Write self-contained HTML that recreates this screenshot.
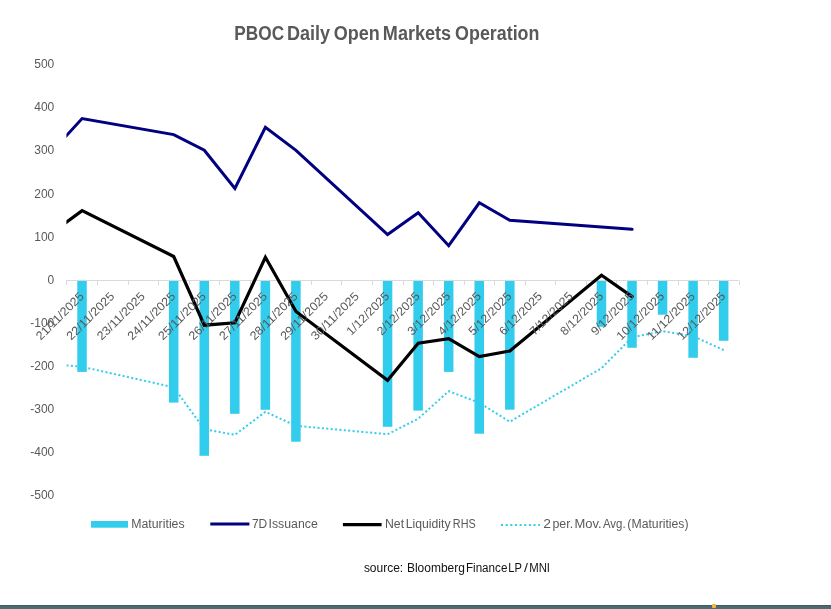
<!DOCTYPE html>
<html><head><meta charset="utf-8"><title>PBOC Daily Open Markets Operation</title>
<style>html,body{margin:0;padding:0;background:#fff;width:831px;height:609px;overflow:hidden}svg{display:block;will-change:transform}text{font-family:"Liberation Sans",sans-serif}</style>
</head><body>
<svg width="831" height="609" viewBox="0 0 831 609">
<rect width="831" height="609" fill="#fff"/>
<defs><clipPath id="pa"><rect x="66.4" y="40" width="700" height="480"/></clipPath></defs>
<text x="234.26" y="39.5" font-family="Liberation Sans" font-weight="bold" font-size="19.6" fill="#595959" textLength="49.85" lengthAdjust="spacingAndGlyphs">PBOC</text>
<text x="286.97" y="39.5" font-family="Liberation Sans" font-weight="bold" font-size="19.6" fill="#595959" textLength="43.07" lengthAdjust="spacingAndGlyphs">Daily</text>
<text x="333.72" y="39.5" font-family="Liberation Sans" font-weight="bold" font-size="19.6" fill="#595959" textLength="46.00" lengthAdjust="spacingAndGlyphs">Open</text>
<text x="382.87" y="39.5" font-family="Liberation Sans" font-weight="bold" font-size="19.6" fill="#595959" textLength="68.28" lengthAdjust="spacingAndGlyphs">Markets</text>
<text x="455.12" y="39.5" font-family="Liberation Sans" font-weight="bold" font-size="19.6" fill="#595959" textLength="84.34" lengthAdjust="spacingAndGlyphs">Operation</text>
<text x="54.3" y="68.2" text-anchor="end" font-family="Liberation Sans" font-size="12" fill="#595959">500</text>
<text x="54.3" y="111.3" text-anchor="end" font-family="Liberation Sans" font-size="12" fill="#595959">400</text>
<text x="54.3" y="154.4" text-anchor="end" font-family="Liberation Sans" font-size="12" fill="#595959">300</text>
<text x="54.3" y="197.5" text-anchor="end" font-family="Liberation Sans" font-size="12" fill="#595959">200</text>
<text x="54.3" y="240.6" text-anchor="end" font-family="Liberation Sans" font-size="12" fill="#595959">100</text>
<text x="54.3" y="283.7" text-anchor="end" font-family="Liberation Sans" font-size="12" fill="#595959">0</text>
<text x="54.3" y="326.8" text-anchor="end" font-family="Liberation Sans" font-size="12" fill="#595959">-100</text>
<text x="54.3" y="369.9" text-anchor="end" font-family="Liberation Sans" font-size="12" fill="#595959">-200</text>
<text x="54.3" y="413.0" text-anchor="end" font-family="Liberation Sans" font-size="12" fill="#595959">-300</text>
<text x="54.3" y="456.1" text-anchor="end" font-family="Liberation Sans" font-size="12" fill="#595959">-400</text>
<text x="54.3" y="499.2" text-anchor="end" font-family="Liberation Sans" font-size="12" fill="#595959">-500</text>
<rect x="77.28" y="280.5" width="9.5" height="91.4" fill="#32cdec"/>
<rect x="168.94" y="280.5" width="9.5" height="122.1" fill="#32cdec"/>
<rect x="199.50" y="280.5" width="9.5" height="175.3" fill="#32cdec"/>
<rect x="230.05" y="280.5" width="9.5" height="133.3" fill="#32cdec"/>
<rect x="260.61" y="280.5" width="9.5" height="129.3" fill="#32cdec"/>
<rect x="291.16" y="280.5" width="9.5" height="161.2" fill="#32cdec"/>
<rect x="382.83" y="280.5" width="9.5" height="146.3" fill="#32cdec"/>
<rect x="413.38" y="280.5" width="9.5" height="130.1" fill="#32cdec"/>
<rect x="443.94" y="280.5" width="9.5" height="91.4" fill="#32cdec"/>
<rect x="474.49" y="280.5" width="9.5" height="153.2" fill="#32cdec"/>
<rect x="505.05" y="280.5" width="9.5" height="129.2" fill="#32cdec"/>
<rect x="596.71" y="280.5" width="9.5" height="46.3" fill="#32cdec"/>
<rect x="627.27" y="280.5" width="9.5" height="67.3" fill="#32cdec"/>
<rect x="657.82" y="280.5" width="9.5" height="34.2" fill="#32cdec"/>
<rect x="688.38" y="280.5" width="9.5" height="77.3" fill="#32cdec"/>
<rect x="718.93" y="280.5" width="9.5" height="60.3" fill="#32cdec"/>
<line x1="66.4" y1="280.5" x2="738.6" y2="280.5" stroke="#d9d9d9" stroke-width="1"/>
<line x1="66.5" y1="280.5" x2="66.5" y2="285.0" stroke="#d9d9d9" stroke-width="1"/>
<line x1="97.5" y1="280.5" x2="97.5" y2="285.0" stroke="#d9d9d9" stroke-width="1"/>
<line x1="128.5" y1="280.5" x2="128.5" y2="285.0" stroke="#d9d9d9" stroke-width="1"/>
<line x1="158.5" y1="280.5" x2="158.5" y2="285.0" stroke="#d9d9d9" stroke-width="1"/>
<line x1="189.5" y1="280.5" x2="189.5" y2="285.0" stroke="#d9d9d9" stroke-width="1"/>
<line x1="219.5" y1="280.5" x2="219.5" y2="285.0" stroke="#d9d9d9" stroke-width="1"/>
<line x1="250.5" y1="280.5" x2="250.5" y2="285.0" stroke="#d9d9d9" stroke-width="1"/>
<line x1="280.5" y1="280.5" x2="280.5" y2="285.0" stroke="#d9d9d9" stroke-width="1"/>
<line x1="311.5" y1="280.5" x2="311.5" y2="285.0" stroke="#d9d9d9" stroke-width="1"/>
<line x1="341.5" y1="280.5" x2="341.5" y2="285.0" stroke="#d9d9d9" stroke-width="1"/>
<line x1="372.5" y1="280.5" x2="372.5" y2="285.0" stroke="#d9d9d9" stroke-width="1"/>
<line x1="403.5" y1="280.5" x2="403.5" y2="285.0" stroke="#d9d9d9" stroke-width="1"/>
<line x1="433.5" y1="280.5" x2="433.5" y2="285.0" stroke="#d9d9d9" stroke-width="1"/>
<line x1="464.5" y1="280.5" x2="464.5" y2="285.0" stroke="#d9d9d9" stroke-width="1"/>
<line x1="494.5" y1="280.5" x2="494.5" y2="285.0" stroke="#d9d9d9" stroke-width="1"/>
<line x1="525.5" y1="280.5" x2="525.5" y2="285.0" stroke="#d9d9d9" stroke-width="1"/>
<line x1="555.5" y1="280.5" x2="555.5" y2="285.0" stroke="#d9d9d9" stroke-width="1"/>
<line x1="586.5" y1="280.5" x2="586.5" y2="285.0" stroke="#d9d9d9" stroke-width="1"/>
<line x1="616.5" y1="280.5" x2="616.5" y2="285.0" stroke="#d9d9d9" stroke-width="1"/>
<line x1="647.5" y1="280.5" x2="647.5" y2="285.0" stroke="#d9d9d9" stroke-width="1"/>
<line x1="678.5" y1="280.5" x2="678.5" y2="285.0" stroke="#d9d9d9" stroke-width="1"/>
<line x1="708.5" y1="280.5" x2="708.5" y2="285.0" stroke="#d9d9d9" stroke-width="1"/>
<line x1="739.5" y1="280.5" x2="739.5" y2="285.0" stroke="#d9d9d9" stroke-width="1"/>
<polyline clip-path="url(#pa)" points="51.1,364.0 82.1,366.8 173.7,387.3 204.3,429.2 234.9,434.8 265.4,411.8 296.0,425.8 387.6,434.2 418.2,418.7 448.7,391.2 479.3,402.8 509.8,421.7 601.5,368.2 632.1,337.3 662.6,331.2 693.2,336.2 723.7,350.1" fill="none" stroke="#32cdec" stroke-width="2" stroke-dasharray="2 2.4" stroke-dashoffset="2.15"/>
<polyline clip-path="url(#pa)" points="51.1,152.4 82.1,118.6 173.7,134.6 204.3,150.2 234.9,188.5 265.4,127.3 296.0,150.3 387.6,234.5 418.2,212.7 448.7,245.7 479.3,202.8 509.8,220.3 632.1,229.3" fill="none" stroke="#000080" stroke-width="3" stroke-linejoin="miter" stroke-linecap="round"/>
<polyline clip-path="url(#pa)" points="51.1,233.6 82.1,210.6 173.7,256.5 204.3,325.2 234.9,322.8 265.4,257.3 296.0,311.5 387.6,380.3 418.2,343.2 448.7,338.6 479.3,356.6 509.8,351.0 601.5,275.2 632.1,296.6" fill="none" stroke="#000" stroke-width="3.2" stroke-linejoin="miter" stroke-linecap="round"/>
<text transform="translate(84.6,297.0) rotate(-45)" text-anchor="end" font-family="Liberation Sans" font-size="12" fill="#595959" textLength="62.0" lengthAdjust="spacingAndGlyphs">21/11/2025</text>
<text transform="translate(115.1,297.0) rotate(-45)" text-anchor="end" font-family="Liberation Sans" font-size="12" fill="#595959" textLength="62.0" lengthAdjust="spacingAndGlyphs">22/11/2025</text>
<text transform="translate(145.7,297.0) rotate(-45)" text-anchor="end" font-family="Liberation Sans" font-size="12" fill="#595959" textLength="62.0" lengthAdjust="spacingAndGlyphs">23/11/2025</text>
<text transform="translate(176.2,297.0) rotate(-45)" text-anchor="end" font-family="Liberation Sans" font-size="12" fill="#595959" textLength="62.0" lengthAdjust="spacingAndGlyphs">24/11/2025</text>
<text transform="translate(206.8,297.0) rotate(-45)" text-anchor="end" font-family="Liberation Sans" font-size="12" fill="#595959" textLength="62.0" lengthAdjust="spacingAndGlyphs">25/11/2025</text>
<text transform="translate(237.4,297.0) rotate(-45)" text-anchor="end" font-family="Liberation Sans" font-size="12" fill="#595959" textLength="62.0" lengthAdjust="spacingAndGlyphs">26/11/2025</text>
<text transform="translate(267.9,297.0) rotate(-45)" text-anchor="end" font-family="Liberation Sans" font-size="12" fill="#595959" textLength="62.0" lengthAdjust="spacingAndGlyphs">27/11/2025</text>
<text transform="translate(298.5,297.0) rotate(-45)" text-anchor="end" font-family="Liberation Sans" font-size="12" fill="#595959" textLength="62.0" lengthAdjust="spacingAndGlyphs">28/11/2025</text>
<text transform="translate(329.0,297.0) rotate(-45)" text-anchor="end" font-family="Liberation Sans" font-size="12" fill="#595959" textLength="62.0" lengthAdjust="spacingAndGlyphs">29/11/2025</text>
<text transform="translate(359.6,297.0) rotate(-45)" text-anchor="end" font-family="Liberation Sans" font-size="12" fill="#595959" textLength="62.0" lengthAdjust="spacingAndGlyphs">30/11/2025</text>
<text transform="translate(390.1,297.0) rotate(-45)" text-anchor="end" font-family="Liberation Sans" font-size="12" fill="#595959" textLength="55.1" lengthAdjust="spacingAndGlyphs">1/12/2025</text>
<text transform="translate(420.7,297.0) rotate(-45)" text-anchor="end" font-family="Liberation Sans" font-size="12" fill="#595959" textLength="55.1" lengthAdjust="spacingAndGlyphs">2/12/2025</text>
<text transform="translate(451.2,297.0) rotate(-45)" text-anchor="end" font-family="Liberation Sans" font-size="12" fill="#595959" textLength="55.1" lengthAdjust="spacingAndGlyphs">3/12/2025</text>
<text transform="translate(481.8,297.0) rotate(-45)" text-anchor="end" font-family="Liberation Sans" font-size="12" fill="#595959" textLength="55.1" lengthAdjust="spacingAndGlyphs">4/12/2025</text>
<text transform="translate(512.3,297.0) rotate(-45)" text-anchor="end" font-family="Liberation Sans" font-size="12" fill="#595959" textLength="55.1" lengthAdjust="spacingAndGlyphs">5/12/2025</text>
<text transform="translate(542.9,297.0) rotate(-45)" text-anchor="end" font-family="Liberation Sans" font-size="12" fill="#595959" textLength="55.1" lengthAdjust="spacingAndGlyphs">6/12/2025</text>
<text transform="translate(573.5,297.0) rotate(-45)" text-anchor="end" font-family="Liberation Sans" font-size="12" fill="#595959" textLength="55.1" lengthAdjust="spacingAndGlyphs">7/12/2025</text>
<text transform="translate(604.0,297.0) rotate(-45)" text-anchor="end" font-family="Liberation Sans" font-size="12" fill="#595959" textLength="55.1" lengthAdjust="spacingAndGlyphs">8/12/2025</text>
<text transform="translate(634.6,297.0) rotate(-45)" text-anchor="end" font-family="Liberation Sans" font-size="12" fill="#595959" textLength="55.1" lengthAdjust="spacingAndGlyphs">9/12/2025</text>
<text transform="translate(665.1,297.0) rotate(-45)" text-anchor="end" font-family="Liberation Sans" font-size="12" fill="#595959" textLength="62.0" lengthAdjust="spacingAndGlyphs">10/12/2025</text>
<text transform="translate(695.7,297.0) rotate(-45)" text-anchor="end" font-family="Liberation Sans" font-size="12" fill="#595959" textLength="62.0" lengthAdjust="spacingAndGlyphs">11/12/2025</text>
<text transform="translate(726.2,297.0) rotate(-45)" text-anchor="end" font-family="Liberation Sans" font-size="12" fill="#595959" textLength="62.0" lengthAdjust="spacingAndGlyphs">12/12/2025</text>
<rect x="91" y="521" width="37" height="6.7" fill="#32cdec"/>
<text x="131.23" y="527.8" font-family="Liberation Sans" font-size="12" fill="#595959" textLength="53.42" lengthAdjust="spacingAndGlyphs">Maturities</text>
<line x1="210.3" y1="524.1" x2="249.4" y2="524.1" stroke="#000080" stroke-width="3"/>
<text x="251.91" y="527.8" font-family="Liberation Sans" font-size="12" fill="#595959" textLength="15.31" lengthAdjust="spacingAndGlyphs">7D</text>
<text x="268.50" y="527.8" font-family="Liberation Sans" font-size="12" fill="#595959" textLength="49.22" lengthAdjust="spacingAndGlyphs">Issuance</text>
<line x1="342.9" y1="524.5" x2="381.6" y2="524.5" stroke="#000" stroke-width="3.25"/>
<text x="385.03" y="527.8" font-family="Liberation Sans" font-size="12" fill="#595959" textLength="19.06" lengthAdjust="spacingAndGlyphs">Net</text>
<text x="405.70" y="527.8" font-family="Liberation Sans" font-size="12" fill="#595959" textLength="44.87" lengthAdjust="spacingAndGlyphs">Liquidity</text>
<text x="452.87" y="527.8" font-family="Liberation Sans" font-size="12" fill="#595959" textLength="22.87" lengthAdjust="spacingAndGlyphs">RHS</text>
<line x1="501" y1="525" x2="540" y2="525" stroke="#32cdec" stroke-width="2" stroke-dasharray="2 2.65"/>
<text x="543.27" y="527.8" font-family="Liberation Sans" font-size="12" fill="#595959" textLength="7.70" lengthAdjust="spacingAndGlyphs">2</text>
<text x="552.48" y="527.8" font-family="Liberation Sans" font-size="12" fill="#595959" textLength="20.65" lengthAdjust="spacingAndGlyphs">per.</text>
<text x="574.42" y="527.8" font-family="Liberation Sans" font-size="12" fill="#595959" textLength="27.14" lengthAdjust="spacingAndGlyphs">Mov.</text>
<text x="602.91" y="527.8" font-family="Liberation Sans" font-size="12" fill="#595959" textLength="22.70" lengthAdjust="spacingAndGlyphs">Avg.</text>
<text x="627.39" y="527.8" font-family="Liberation Sans" font-size="12" fill="#595959" textLength="61.15" lengthAdjust="spacingAndGlyphs">(Maturities)</text>
<text x="363.89" y="572.3" font-family="Liberation Sans" font-size="12" fill="#111" textLength="39.31" lengthAdjust="spacingAndGlyphs">source:</text>
<text x="406.98" y="572.3" font-family="Liberation Sans" font-size="12" fill="#111" textLength="57.91" lengthAdjust="spacingAndGlyphs">Bloomberg</text>
<text x="465.95" y="572.3" font-family="Liberation Sans" font-size="12" fill="#111" textLength="41.45" lengthAdjust="spacingAndGlyphs">Finance</text>
<text x="508.27" y="572.3" font-family="Liberation Sans" font-size="12" fill="#111" textLength="13.60" lengthAdjust="spacingAndGlyphs">LP</text>
<text x="523.97" y="572.3" font-family="Liberation Sans" font-size="12" fill="#111" textLength="3.97" lengthAdjust="spacingAndGlyphs">/</text>
<text x="529.18" y="572.3" font-family="Liberation Sans" font-size="12" fill="#111" textLength="20.85" lengthAdjust="spacingAndGlyphs">MNI</text>
<rect x="0" y="605" width="831" height="4" fill="#4e6a72"/>
<rect x="0" y="605" width="831" height="1" fill="#3f5a63"/>
<rect x="712" y="604" width="4" height="4" rx="1" fill="#f5b342"/>
</svg>
</body></html>
